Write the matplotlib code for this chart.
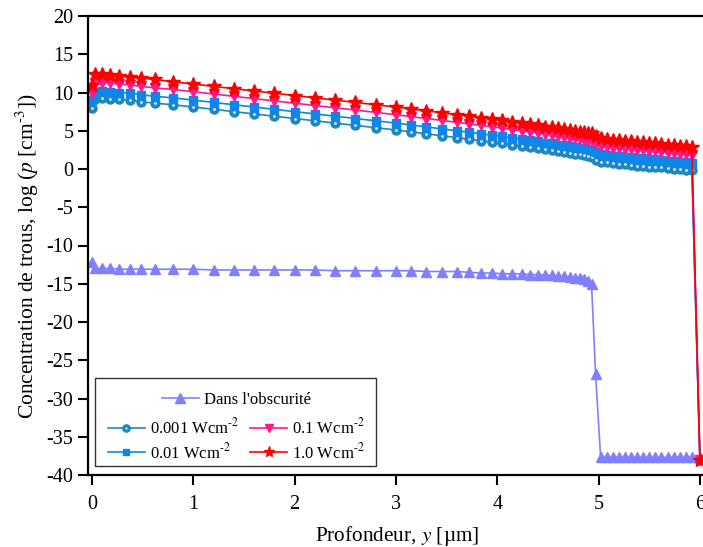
import numpy as np
import matplotlib.pyplot as plt
from matplotlib.patches import Rectangle
from matplotlib.legend_handler import HandlerTuple

plt.rcParams['font.family'] = ['Liberation Serif', 'DejaVu Serif']
plt.rcParams['mathtext.fontset'] = 'stix'
plt.rcParams['axes.unicode_minus'] = False

# profondeur (um)
x = [0.0, 0.03, 0.1, 0.18, 0.27, 0.37, 0.48, 0.62, 0.8, 1.0,
     1.2, 1.4, 1.6, 1.8, 2.0, 2.2, 2.4, 2.6, 2.8, 3.0,
     3.15, 3.3, 3.45, 3.6, 3.72, 3.84, 3.95, 4.05, 4.15, 4.24,
     4.32, 4.4, 4.47, 4.54, 4.6, 4.66, 4.72, 4.77, 4.82, 4.86,
     4.9, 4.93, 4.97, 5.02, 5.08, 5.14, 5.2, 5.26, 5.32, 5.38,
     5.44, 5.5, 5.56, 5.62, 5.68, 5.74, 5.8, 5.86, 5.92, 6.0]

dark = [-12.2, -13.0, -13.0, -13.0, -13.1, -13.1, -13.1, -13.1, -13.1, -13.1,
        -13.2, -13.2, -13.2, -13.2, -13.2, -13.2, -13.3, -13.3, -13.3, -13.3,
        -13.3, -13.4, -13.4, -13.4, -13.5, -13.6, -13.6, -13.7, -13.7, -13.7,
        -13.8, -13.8, -13.9, -13.9, -14.0, -14.0, -14.1, -14.2, -14.3, -14.4,
        -14.6, -15.0, -26.8, -37.7, -37.7, -37.7, -37.7, -37.7, -37.7, -37.7,
        -37.7, -37.7, -37.7, -37.7, -37.7, -37.7, -37.7, -37.7, -37.7, -37.8]

w0001 = [8.0, 9.2, 9.3, 9.2, 9.1, 9.0, 8.8, 8.6, 8.4, 8.1,
         7.8, 7.5, 7.2, 6.9, 6.6, 6.3, 6.0, 5.7, 5.4, 5.1,
         4.85, 4.6, 4.35, 4.1, 3.9, 3.7, 3.5, 3.35, 3.15, 3.0,
         2.85, 2.7, 2.55, 2.45, 2.3, 2.2, 2.1, 2.0, 1.9, 1.8,
         1.7, 1.6, 1.2, 0.9, 0.85, 0.75, 0.7, 0.6, 0.55, 0.45,
         0.4, 0.3, 0.25, 0.2, 0.1, 0.05, -0.05, -0.1, -0.15, -38.0]

w001 = [9.0, 10.1, 10.2, 10.1, 10.0, 9.9, 9.7, 9.5, 9.3, 9.0,
        8.7, 8.4, 8.1, 7.8, 7.5, 7.2, 6.9, 6.6, 6.3, 6.0,
        5.75, 5.5, 5.25, 5.0, 4.8, 4.6, 4.4, 4.25, 4.05, 3.9,
        3.75, 3.6, 3.45, 3.35, 3.2, 3.1, 3.0, 2.9, 2.8, 2.7,
        2.6, 2.5, 2.2, 1.9, 1.85, 1.75, 1.7, 1.6, 1.55, 1.45,
        1.4, 1.3, 1.25, 1.2, 1.1, 1.05, 0.95, 0.9, 0.8, -38.0]

w01 = [9.9, 11.2, 11.3, 11.2, 11.1, 11.0, 10.8, 10.6, 10.4, 10.1,
       9.8, 9.5, 9.2, 8.9, 8.6, 8.3, 8.0, 7.7, 7.4, 7.1,
       6.85, 6.6, 6.35, 6.1, 5.9, 5.7, 5.5, 5.35, 5.15, 5.0,
       4.85, 4.7, 4.55, 4.45, 4.3, 4.2, 4.1, 4.0, 3.9, 3.8,
       3.7, 3.6, 3.25, 2.95, 2.9, 2.8, 2.75, 2.65, 2.6, 2.5,
       2.45, 2.35, 2.3, 2.2, 2.15, 2.05, 2.0, 1.9, 1.8, -38.0]

w1 = [11.0, 12.4, 12.4, 12.3, 12.2, 12.0, 11.9, 11.7, 11.4, 11.1,
      10.8, 10.5, 10.2, 9.9, 9.6, 9.3, 9.0, 8.7, 8.4, 8.1,
      7.85, 7.6, 7.35, 7.1, 6.9, 6.7, 6.5, 6.35, 6.15, 6.0,
      5.85, 5.7, 5.55, 5.45, 5.3, 5.2, 5.1, 5.0, 4.9, 4.8,
      4.75, 4.65, 4.3, 4.0, 3.95, 3.85, 3.8, 3.7, 3.65, 3.55,
      3.5, 3.4, 3.35, 3.3, 3.2, 3.15, 3.05, 3.0, 2.9, -38.0]

fig = plt.figure(figsize=(7.03, 5.47), dpi=100)
# right spine falls just outside the canvas, as in the original
ax = fig.add_axes([88/703, 72/547, 618/703, 459/547])

c_dark = '#8080ff'
c1 = '#1f86c4'
c2 = '#0a86ec'
c3 = '#ff1a8c'
c4 = '#ff0000'

l_dark, = ax.plot(x, dark, '-^', color=c_dark, lw=1.2, ms=7)
l1, = ax.plot(x, w0001, '-o', color=c1, lw=1.2, ms=6.5)
d1, = ax.plot(x, w0001, 'o', color='#d5f0fa', ms=2, mew=0)
l2, = ax.plot(x, w001, '-s', color=c2, lw=1.2, ms=6)
l3, = ax.plot(x, w01, '-v', color=c3, lw=1.2, ms=7.5)
l4, = ax.plot(x, w1, '-*', color=c4, lw=1.2, ms=10)

ax.set_xlim(-0.04, 6.06)
ax.set_ylim(-40, 20)
ax.set_yticks(np.arange(-40, 21, 5))
ax.set_xticks(range(0, 7))
ax.tick_params(direction='out', length=7.5, width=1.5, labelsize=14.5, top=False, right=False)
ax.tick_params(axis='x', pad=7)
ax.tick_params(axis='y', pad=3)
for s in ax.spines.values():
    s.set_linewidth(1.6)

ax.set_xlabel('Profondeur, $y$ [µm]', fontsize=15.3, labelpad=7)
ax.set_ylabel('Concentration de trous, log ($p$ [cm$^{\\text{-}3}$])', fontsize=15.5)
ax.yaxis.set_label_coords(-0.076, 0.477)

# legend frame + two frameless legends
ax.add_patch(Rectangle((0.0114, 0.0196), 0.455, 0.192, transform=ax.transAxes,
                       facecolor='white', edgecolor='#333333', lw=1.0, zorder=5))
leg1 = ax.legend([l_dark], ["Dans l'obscurité"], loc='upper center',
                 bbox_to_anchor=(0.24, 0.207), frameon=False, fontsize=12,
                 handlelength=2.2, handletextpad=0.3, borderpad=0.2)
leg1.set_zorder(6)
ax.add_artist(leg1)
unit = ' Wcm$^{\\text{-}2}$'
leg2 = ax.legend([(l1, d1), l2, l3, l4],
                 ['0.001' + unit, '0.01' + unit, '0.1' + unit, '1.0' + unit],
                 handler_map={tuple: HandlerTuple(ndivide=1)},
                 loc='upper center', bbox_to_anchor=(0.24, 0.150), ncol=2, frameon=False,
                 fontsize=12, handlelength=2.2, handletextpad=0.3, columnspacing=0.7,
                 labelspacing=0.25, borderpad=0.2, markerscale=0.8)
leg2.set_zorder(6)

fig.savefig('out.png', dpi=100)
